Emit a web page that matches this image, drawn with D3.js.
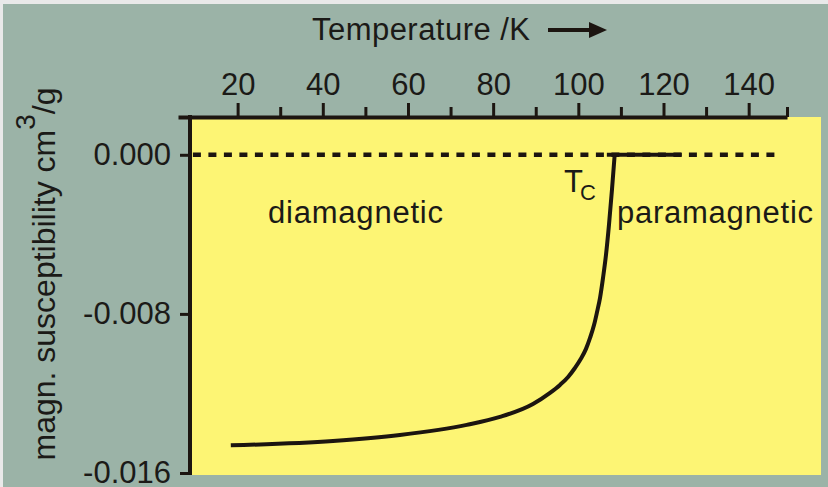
<!DOCTYPE html>
<html>
<head>
<meta charset="utf-8">
<script src="https://cdn.jsdelivr.net/npm/d3@7"></script>
<style>
  html, body { margin: 0; padding: 0; background: #e9e9e9; }
  svg { display: block; }
  text { font-family: "Liberation Sans", Arial, sans-serif; fill: #1b1a17; }
</style>
</head>
<body>
<div id="chart"></div>
<script>
// temperature (K) and magnetic susceptibility (cm^3/g)
var temps = [18.4, 42.4, 58.1, 73.8, 81.6, 89.35, 93.35, 95.7, 97.6, 99.2, 100.6, 101.8, 102.75,
             103.7, 104.4, 105.1, 105.8, 106.5, 107.2, 107.9, 108.5];
var chi   = [-0.01461, -0.01439, -0.01409, -0.01358, -0.01318, -0.01253, -0.01197, -0.01157,
             -0.01117, -0.01072, -0.01026, -0.00976, -0.00921, -0.00855, -0.0079, -0.00719,
             -0.00619, -0.00503, -0.00352, -0.00176, -0.0001];
// flat part above Tc (paramagnetic, ~0)
var flatTemps = [106.7, 124.3];
var flatChi = [0, 0];
// dashed zero reference
var zeroTemps = [9.5, 146.6];

var xMajorTicks = [20, 40, 60, 80, 100, 120, 140];
var xMinorTicks = [30, 50, 70, 90, 110, 130];
var yTicks = [0, -0.008, -0.016];

var width = 828, height = 487;
var ink = "#1c1510";

var svg = d3.select("#chart")
      .append("svg")
      .attr("width", width)
      .attr("height", height);

// greyish-green panel (light strip left and top is the page background)
svg.append("rect")
  .attr("x", 3).attr("y", 4)
  .attr("width", width - 3).attr("height", height - 4)
  .attr("fill", "#9bb3a7");

var x = d3.scaleLinear()
      .domain([6, 149])
      .range([178, 787]);

var y = d3.scaleLinear()
      .domain([-0.016, 0.0019])
      .range([473, 117]);

var plotLeft = 190, plotRight = 821;

// yellow plot area
svg.append("rect")
  .attr("x", plotLeft)
  .attr("y", y.range()[1])
  .attr("width", plotRight - plotLeft)
  .attr("height", y.range()[0] - y.range()[1] + 2)
  .attr("fill", "#fdf574");

// top axis: minor ticks (plus one at the end of the axis) then major ticks with labels
var gMinor = svg.append("g")
      .attr("transform", "translate(0," + y.range()[1] + ")")
      .call(d3.axisTop(x).tickValues(xMinorTicks.concat([x.domain()[1]]))
            .tickSize(10).tickSizeOuter(0).tickFormat(""));

var gMajor = svg.append("g")
      .attr("transform", "translate(0," + y.range()[1] + ")")
      .call(d3.axisTop(x).tickValues(xMajorTicks).tickSize(14).tickSizeOuter(0).tickPadding(8));

// left axis
var gy = svg.append("g")
      .attr("transform", "translate(" + plotLeft + ",0)")
      .call(d3.axisLeft(y).tickValues(yTicks).tickSize(10).tickSizeOuter(0).tickPadding(9)
            .tickFormat(function(d) { return d.toFixed(3); }));
gy.select(".domain").attr("d", "M0," + (y.range()[1] - 2) + "V" + (y.range()[0] + 2));

[gMinor, gMajor, gy].forEach(function(g) {
  g.select(".domain").attr("stroke", ink).attr("stroke-width", 4);
  g.selectAll(".tick line").attr("stroke", ink).attr("stroke-width", 3);
  g.selectAll(".tick text")
    .attr("fill", "#1b1a17")
    .style("font-size", "31px")
    .style("font-family", "'Liberation Sans', Arial, sans-serif");
});
gMinor.select(".domain").remove();

// dashed zero line
svg.append("line")
  .attr("x1", x(zeroTemps[0])).attr("x2", x(zeroTemps[1]))
  .attr("y1", y(0)).attr("y2", y(0))
  .attr("stroke", ink)
  .attr("stroke-width", 4.5)
  .attr("stroke-dasharray", "8,7.5");

// susceptibility curve
var line = d3.line()
      .x(function(d) { return x(d[0]); })
      .y(function(d) { return y(d[1]); })
      .curve(d3.curveMonotoneX);

svg.append("path")
  .datum(d3.zip(temps, chi))
  .attr("d", line)
  .attr("fill", "none")
  .attr("stroke", ink)
  .attr("stroke-width", 4)
  .attr("stroke-linejoin", "round");

svg.append("path")
  .datum(d3.zip(flatTemps, flatChi))
  .attr("d", d3.line().x(function(d) { return x(d[0]); }).y(function(d) { return y(d[1]); }))
  .attr("fill", "none")
  .attr("stroke", ink)
  .attr("stroke-width", 4);

// title with arrow
svg.append("text")
  .attr("x", 312).attr("y", 40)
  .attr("textLength", 218).attr("lengthAdjust", "spacing")
  .style("font-size", "31px")
  .text("Temperature /K");

svg.append("line")
  .attr("x1", 548).attr("x2", 592)
  .attr("y1", 30).attr("y2", 30)
  .attr("stroke", ink).attr("stroke-width", 4);
svg.append("path")
  .attr("d", "M589,22L607,30L589,38Z")
  .attr("fill", ink);

// y axis title
var yl = svg.append("text")
      .attr("transform", "translate(55,274) rotate(-90)")
      .attr("text-anchor", "middle")
      .style("font-size", "32px");
yl.append("tspan").text("magn. susceptibility cm");
yl.append("tspan").attr("dy", -20).style("font-size", "28px").text("3");
yl.append("tspan").attr("dy", 20).text("/g");

// region labels
svg.append("text")
  .attr("x", 268).attr("y", 223)
  .attr("textLength", 175).attr("lengthAdjust", "spacing")
  .style("font-size", "31px")
  .text("diamagnetic");

svg.append("text")
  .attr("x", 617).attr("y", 223)
  .attr("textLength", 196).attr("lengthAdjust", "spacing")
  .style("font-size", "31px")
  .text("paramagnetic");

// Tc label
svg.append("text")
  .attr("x", 564).attr("y", 192)
  .style("font-size", "31px")
  .text("T");
svg.append("text")
  .attr("x", 580).attr("y", 200)
  .style("font-size", "22px")
  .text("C");
</script>
</body>
</html>
